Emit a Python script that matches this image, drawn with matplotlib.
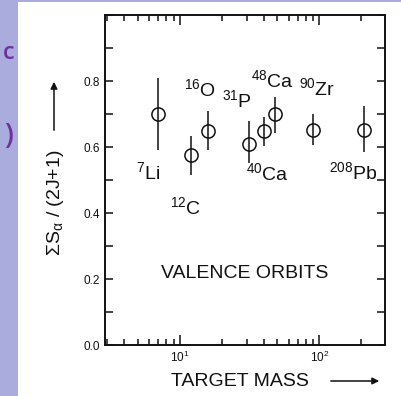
import matplotlib
matplotlib.use('Agg')
import matplotlib.pyplot as plt
from matplotlib.patches import Rectangle, FancyArrowPatch
from matplotlib.ticker import LogLocator, MultipleLocator, NullFormatter

plt.rcParams['font.family'] = ['Liberation Sans', 'DejaVu Sans']
plt.rcParams['mathtext.fontset'] = 'custom'
plt.rcParams['mathtext.rm'] = 'Liberation Sans'
plt.rcParams['mathtext.it'] = 'Liberation Sans:italic'
plt.rcParams['mathtext.default'] = 'regular'

# data
nuclei = ['$^{7}$Li', '$^{12}$C', '$^{16}$O', '$^{31}$P', '$^{40}$Ca', '$^{48}$Ca', '$^{90}$Zr', '$^{208}$Pb']
mass = [7, 12, 16, 31, 40, 48, 90, 208]
strength = [0.70, 0.575, 0.65, 0.61, 0.647, 0.70, 0.653, 0.653]
err_up = [0.11, 0.058, 0.058, 0.068, 0.045, 0.053, 0.048, 0.07]
err_dn = [0.11, 0.06, 0.06, 0.058, 0.044, 0.057, 0.047, 0.068]

# label positions (data coords)
label_x = [5.9, 10.9, 13.9, 25.6, 42.5, 45.7, 96, 175]
label_y = [0.524, 0.418, 0.776, 0.742, 0.521, 0.803, 0.779, 0.524]

ink = '#111111'
W, H = 401, 396

fig = plt.figure(figsize=(W / 100, H / 100), dpi=100, facecolor='#a9acdc')
fig.patches.append(Rectangle((18 / W, 0), 1, (H - 2) / H, transform=fig.transFigure,
                             facecolor='white', edgecolor='none', zorder=-10))
# slide text cut off at the left edge
fig.text(9 / W, 1 - 53 / H, 'c', color='#7030a0', fontsize=17, ha='center', va='center',
         family='Open Sans', weight='semibold')
fig.text(9 / W, 1 - 136 / H, ')', color='#7030a0', fontsize=20, ha='center', va='center',
         family='Open Sans', weight='semibold')

ax = fig.add_axes([105 / W, 1 - 345 / H, 280 / W, 330 / H])
ax.set_facecolor('none')
ax.errorbar(mass, strength, yerr=[err_dn, err_up], fmt='o', ms=9.5, mfc='none', mec=ink,
            mew=1.1, ecolor=ink, elinewidth=1.1, capsize=0)

for name, x, y in zip(nuclei, label_x, label_y):
    ax.text(x, y, name, fontsize=14, ha='center', va='center', color=ink)
ax.text(29.3, 0.218, 'VALENCE ORBITS', fontsize=14, ha='center', va='center', color=ink)

ax.set_xscale('log')
ax.set_xlim(2.9, 295)
ax.set_ylim(0, 1.0)
ax.yaxis.set_minor_locator(MultipleLocator(0.1))
ax.set_yticks([0, 0.2, 0.4, 0.6, 0.8])
ax.xaxis.set_major_locator(LogLocator(base=10, numticks=5))
ax.xaxis.set_minor_locator(LogLocator(base=10, subs=range(2, 10), numticks=20))
ax.xaxis.set_minor_formatter(NullFormatter())
ax.tick_params(which='both', direction='in', top=True, right=True, colors=ink,
               labelsize=8.5, width=1.1)
ax.tick_params(axis='y', which='both', length=6)
ax.tick_params(axis='x', which='major', length=7)
ax.tick_params(axis='x', which='minor', length=4)
for s in ax.spines.values():
    s.set_linewidth(1.4)
    s.set_color(ink)

fig.text(55 / W, 1 - 203 / H, r'$\Sigma$S$_{\alpha}$ / (2J+1)', rotation=90, fontsize=14,
         ha='center', va='center', color=ink)
fig.text(240 / W, 1 - 381 / H, 'TARGET MASS', fontsize=14, ha='center', va='center', color=ink)
fig.add_artist(FancyArrowPatch((54 / W, 1 - 133 / H), (54 / W, 1 - 79 / H),
                               transform=fig.transFigure, arrowstyle='-|>', color=ink,
                               lw=1.1, mutation_scale=10))
fig.add_artist(FancyArrowPatch((328 / W, 1 - 381 / H), (382 / W, 1 - 381 / H),
                               transform=fig.transFigure, arrowstyle='-|>', color=ink,
                               lw=1.1, mutation_scale=10))

fig.savefig('out.png', dpi=100, facecolor=fig.get_facecolor())
